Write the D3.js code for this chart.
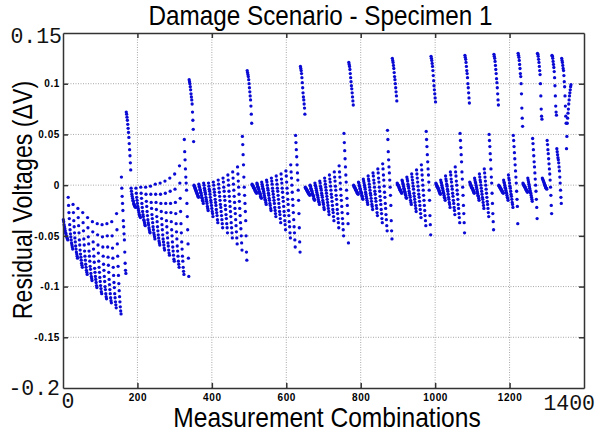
<!DOCTYPE html>
<html>
<head>
<meta charset="utf-8">
<script src="https://d3js.org/d3.v7.min.js"></script>
<style>
    body { margin: 0; background: #fff; }
    svg { display: block; background: #fff; }
    .grid line { stroke: #a8a8a8; stroke-width: 1; stroke-dasharray: 1,1.5; }
    .axis path, .axis line { stroke: #333; stroke-width: 1.5; }
    .axis text { font-family: "Liberation Sans", Arial, sans-serif; font-weight: bold; font-size: 10px; letter-spacing: 0.6px; fill: #000; }
    .big { font-family: "Liberation Mono", "DejaVu Sans Mono", monospace; font-size: 21.5px; fill: #111; }
    .label { font-family: "Liberation Sans", Arial, sans-serif; fill: #000; }
</style>
</head>
<body>
<div id="chart"></div>
<script>
// residual voltages in mV, one array of 13 measurements per current-injection pair
var seg01 = [
    [-34,-36,-39,-41,-43,-45,-47,-48,-50,-51,-52,-53,-54],
    [-12,-20,-27,-33,-39,-44,-48,-51,-54,-57,-59,-61,-63],
    [-19,-27,-35,-41,-47,-52,-56,-60,-63,-66,-68,-70,-72],
    [-23,-32,-40,-47,-54,-59,-64,-68,-71,-74,-77,-79,-81],
    [-27,-37,-45,-53,-59,-65,-70,-74,-78,-81,-84,-86,-88],
    [-32,-42,-51,-58,-65,-70,-75,-80,-83,-87,-90,-92,-94],
    [-36,-46,-56,-63,-70,-76,-82,-86,-90,-93,-96,-99,-101],
    [-38,-49,-59,-67,-75,-81,-86,-91,-95,-99,-102,-105,-107],
    [-39,-51,-61,-70,-78,-84,-90,-95,-100,-103,-107,-110,-112],
    [-38,-50,-61,-71,-79,-86,-93,-98,-103,-107,-111,-114,-116],
    [-36,-50,-62,-72,-81,-89,-96,-101,-107,-111,-115,-118,-121],
    [-28,-44,-58,-70,-80,-89,-97,-104,-110,-115,-120,-124,-127],
    [8,-3,-11,-18,-25,-35,-41,-48,-54,-66,-77,-84,-87],
    [72,70,67,64,60,56,52,47,41,35,29,22,15]
];
var seg02 = [
    [-3,-6,-9,-11,-13,-15,-16,-18,-19,-20,-21,-21,-22],
    [-3,-8,-12,-15,-18,-21,-23,-25,-27,-29,-30,-31,-32],
    [-2,-8,-13,-18,-22,-26,-29,-31,-34,-35,-37,-39,-40],
    [-2,-9,-16,-21,-26,-30,-34,-37,-39,-42,-44,-46,-47],
    [-1,-9,-17,-23,-29,-33,-37,-41,-44,-47,-49,-51,-53],
    [1,-9,-17,-24,-31,-36,-41,-45,-49,-52,-55,-57,-59],
    [2,-9,-18,-26,-33,-39,-44,-49,-53,-56,-59,-62,-64],
    [4,-8,-18,-27,-35,-41,-47,-52,-57,-60,-64,-67,-69],
    [7,-6,-18,-27,-36,-44,-50,-56,-61,-65,-69,-73,-75],
    [11,-4,-17,-28,-38,-46,-53,-60,-65,-70,-75,-78,-81],
    [19,2,-13,-26,-38,-47,-56,-63,-70,-75,-81,-85,-88],
    [45,33,25,16,8,2,-5,-18,-31,-44,-58,-72,-90],
    [104,102,100,97,94,90,87,84,80,72,64,55,43]
];
var seg03 = [
    [0,-1,-2,-3,-4,-5,-6,-7,-8,-9,-10,-11,-12],
    [1,-1,-2,-4,-5,-7,-8,-10,-12,-13,-15,-16,-18],
    [2,0,-3,-5,-7,-9,-12,-14,-16,-18,-21,-23,-25],
    [2,-1,-4,-6,-9,-12,-15,-17,-20,-23,-26,-28,-31],
    [3,0,-4,-7,-10,-14,-17,-20,-24,-27,-30,-34,-37],
    [5,1,-3,-7,-11,-15,-19,-22,-26,-30,-34,-38,-42],
    [7,3,-2,-6,-11,-15,-20,-24,-29,-33,-38,-42,-47],
    [10,5,0,-6,-11,-16,-21,-26,-31,-37,-42,-47,-52],
    [13,7,1,-5,-11,-17,-23,-28,-34,-40,-46,-52,-58],
    [18,11,4,-2,-9,-16,-23,-30,-37,-43,-50,-57,-64],
    [48,40,30,20,8,-2,-10,-18,-26,-35,-50,-66,-74],
    [113,111,109,107,104,100,96,92,88,84,78,70,61]
];
var seg04 = [
    [1,0,0,-1,-2,-3,-3,-4,-5,-6,-6,-7,-8],
    [2,1,-1,-2,-3,-4,-6,-7,-8,-9,-11,-12,-13],
    [3,1,-1,-3,-4,-6,-8,-10,-12,-14,-15,-17,-19],
    [5,3,0,-3,-5,-8,-10,-13,-15,-18,-20,-23,-25],
    [7,4,1,-3,-6,-9,-12,-15,-18,-22,-25,-28,-31],
    [9,5,1,-3,-6,-10,-14,-18,-22,-26,-29,-33,-37],
    [11,6,2,-3,-7,-12,-16,-21,-26,-30,-35,-39,-44],
    [14,9,3,-3,-8,-14,-19,-25,-30,-36,-41,-47,-52],
    [20,13,7,0,-7,-14,-20,-27,-34,-41,-47,-54,-61],
    [49,42,35,28,20,12,5,-5,-15,-28,-42,-56,-66],
    [117,115,113,110,106,101,96,91,87,84,80,76,70]
];
var seg05 = [
    [-2,-3,-3,-4,-5,-5,-6,-7,-7,-8,-9,-9,-10],
    [0,-1,-3,-4,-5,-6,-8,-9,-10,-11,-13,-14,-15],
    [2,0,-1,-3,-5,-7,-9,-10,-12,-14,-16,-17,-19],
    [4,2,-1,-3,-5,-8,-10,-12,-15,-17,-19,-22,-24],
    [7,4,1,-2,-5,-8,-11,-14,-17,-20,-23,-26,-29],
    [10,6,3,-1,-5,-9,-12,-16,-20,-24,-27,-31,-35],
    [13,8,4,-1,-5,-10,-14,-19,-24,-28,-33,-37,-42],
    [19,13,8,2,-4,-10,-15,-21,-27,-33,-38,-44,-50],
    [51,42,34,26,18,10,3,-5,-13,-20,-28,-38,-57],
    [121,119,117,114,110,106,102,98,95,91,87,83,79]
];
var seg06 = [
    [0,-1,-2,-2,-3,-4,-5,-5,-6,-7,-8,-8,-9],
    [3,2,0,-1,-3,-4,-6,-7,-8,-10,-11,-13,-14],
    [6,4,2,0,-2,-4,-7,-9,-11,-13,-15,-17,-19],
    [9,6,4,1,-2,-5,-8,-10,-13,-16,-19,-21,-24],
    [12,9,5,2,-2,-6,-9,-13,-16,-20,-23,-27,-30],
    [16,12,7,3,-2,-6,-11,-15,-19,-24,-28,-33,-37],
    [21,16,10,5,-1,-7,-12,-18,-23,-29,-34,-40,-45],
    [54,45,33,25,18,12,5,-2,-10,-20,-35,-45,-53],
    [125,123,121,118,115,111,107,104,100,96,92,88,83]
];
var seg07 = [
    [2,1,0,0,-1,-2,-3,-4,-5,-5,-6,-7,-8],
    [5,4,2,1,-1,-3,-4,-6,-7,-9,-10,-12,-13],
    [8,6,4,1,-1,-3,-6,-8,-10,-12,-15,-17,-19],
    [11,8,5,2,-1,-4,-8,-11,-14,-17,-20,-23,-26],
    [15,11,7,3,-1,-5,-9,-12,-16,-20,-24,-28,-32],
    [20,15,10,5,0,-5,-10,-15,-20,-25,-30,-35,-40],
    [53,45,38,30,23,16,10,3,-5,-15,-30,-39,-49],
    [127,125,123,120,117,113,108,103,98,94,90,86,82]
];
var seg08 = [
    [2,1,0,-1,-2,-2,-3,-4,-5,-6,-7,-8,-9],
    [5,3,2,0,-2,-3,-5,-7,-8,-10,-12,-13,-15],
    [9,6,4,1,-1,-4,-6,-9,-12,-14,-17,-19,-22],
    [13,10,6,3,-1,-4,-8,-11,-15,-18,-22,-25,-29],
    [18,13,9,4,0,-5,-9,-14,-19,-23,-28,-32,-37],
    [51,44,37,30,23,13,6,-2,-10,-20,-28,-37,-47],
    [128,126,124,121,117,113,110,106,100,96,91,86,81]
];
var seg09 = [
    [3,2,1,0,-1,-2,-3,-3,-4,-5,-6,-7,-8],
    [7,5,3,2,0,-2,-4,-6,-8,-10,-11,-13,-15],
    [11,8,5,3,0,-3,-6,-9,-12,-14,-17,-20,-23],
    [16,12,8,4,0,-4,-8,-12,-16,-19,-23,-27,-31],
    [50,44,38,31,25,16,8,2,-8,-18,-28,-36,-44],
    [129,127,125,122,118,114,110,105,101,96,90,84,79]
];
var seg10 = [
    [0,-1,-1,-2,-3,-3,-4,-5,-5,-6,-7,-7,-8],
    [5,3,2,0,-2,-3,-5,-7,-8,-10,-12,-13,-15],
    [10,7,5,2,-1,-3,-6,-9,-11,-14,-17,-19,-22],
    [49,44,38,32,26,20,14,8,2,-6,-14,-21,-38],
    [130,128,126,123,119,115,110,107,100,90,76,66,58]
];
var seg11 = [
    [2,1,0,0,-1,-2,-2,-3,-4,-5,-5,-6,-7],
    [7,5,3,1,-1,-3,-5,-7,-8,-10,-12,-14,-16],
    [46,41,35,29,23,18,12,6,0,-6,-14,-22,-33],
    [130,129,127,124,121,117,113,109,100,88,75,68,65]
];
var seg12 = [
    [7,6,5,4,3,2,1,0,-1,-2,-3,-3,-4],
    [44,40,35,31,26,21,16,11,5,-2,-10,-20,-28],
    [128,127,125,122,119,116,112,106,98,88,78,72,69]
];
var seg13 = [
    [36,33,30,27,25,22,18,14,8,2,-5,-12,-18],
    [125,123,121,118,115,113,108,102,97,88,78,68,61]
];
var seg14 = [
    [36,48,61,66,71,75,80,84,88,91,94,97,99]
];

var xGrid = [200, 400, 600, 800, 1000, 1200];
var yGrid = [-0.15, -0.1, -0.05, 0, 0.05, 0.1];
var xEnds = [0, 1400];
var yEnds = [-0.2, 0.15];

function drawChart() {
    var width = 597, height = 432;
    var margin = {top: 33, right: 13, bottom: 44, left: 63};

    var svg = d3.select("#chart").append("svg")
        .attr("width", width)
        .attr("height", height);

    var x = d3.scaleLinear().domain(xEnds).range([margin.left, width - margin.right]);
    var y = d3.scaleLinear().domain(yEnds).range([height - margin.bottom, margin.top]);

    // flatten: measurement combination number runs on through all segments
    var points = [];
    var n = 0;
    [seg01, seg02, seg03, seg04, seg05, seg06, seg07, seg08, seg09, seg10, seg11, seg12, seg13, seg14]
        .forEach(function(seg) {
            seg.forEach(function(stripe) {
                stripe.forEach(function(v) {
                    n++;
                    points.push({n: n, v: v / 1000});
                });
            });
        });

    var grid = svg.append("g").attr("class", "grid");
    grid.selectAll(".gx").data(xGrid).enter().append("line")
        .attr("x1", function(d) { return x(d); })
        .attr("x2", function(d) { return x(d); })
        .attr("y1", y(yEnds[0]))
        .attr("y2", y(yEnds[1]));
    grid.selectAll(".gy").data(yGrid).enter().append("line")
        .attr("x1", x(xEnds[0]))
        .attr("x2", x(xEnds[1]))
        .attr("y1", function(d) { return y(d); })
        .attr("y2", function(d) { return y(d); });

    svg.append("g").selectAll("circle")
        .data(points)
        .enter().append("circle")
        .attr("cx", function(d) { return x(d.n); })
        .attr("cy", function(d) { return y(d.v); })
        .attr("r", 1.65)
        .attr("fill", "#0a0ad4");

    var fmtY = function(d) { return String(+d.toFixed(2)); };

    svg.append("g")
        .attr("class", "axis")
        .attr("transform", "translate(0," + y(yEnds[0]) + ")")
        .call(d3.axisBottom(x).tickValues(xGrid).tickSizeInner(-5).tickSizeOuter(0).tickPadding(6).tickFormat(d3.format("d")));
    svg.append("g")
        .attr("class", "axis")
        .attr("transform", "translate(0," + y(yEnds[1]) + ")")
        .call(d3.axisTop(x).tickValues(xGrid).tickSizeInner(-5).tickSizeOuter(0).tickFormat(""));
    svg.append("g")
        .attr("class", "axis")
        .attr("transform", "translate(" + x(xEnds[0]) + ",0)")
        .call(d3.axisLeft(y).tickValues(yGrid).tickSizeInner(-5).tickSizeOuter(0).tickPadding(3).tickFormat(fmtY));
    svg.append("g")
        .attr("class", "axis")
        .attr("transform", "translate(" + x(xEnds[1]) + ",0)")
        .call(d3.axisRight(y).tickValues(yGrid).tickSizeInner(-5).tickSizeOuter(0).tickFormat(""));

    // large end labels
    svg.append("text").attr("class", "big")
        .attr("x", x(xEnds[0]) - 1).attr("y", y(yEnds[1]) + 10)
        .attr("text-anchor", "end").text("0.15");
    svg.append("text").attr("class", "big")
        .attr("x", x(xEnds[0]) - 3).attr("y", y(yEnds[0]) + 7)
        .attr("text-anchor", "end").text("-0.2");
    svg.append("text").attr("class", "big")
        .attr("x", x(xEnds[0]) + 5).attr("y", y(yEnds[0]) + 20)
        .attr("text-anchor", "middle").text("0");
    svg.append("text").attr("class", "big")
        .attr("x", x(xEnds[1]) + 11).attr("y", y(yEnds[0]) + 22)
        .attr("text-anchor", "end").text("1400");

    svg.append("text").attr("class", "label")
        .attr("transform", "translate(320.5,25) scale(1,1.12)")
        .attr("text-anchor", "middle")
        .style("font-size", "24.3px")
        .text("Damage Scenario - Specimen 1");

    svg.append("text").attr("class", "label")
        .attr("transform", "translate(327,427) scale(1,1.12)")
        .attr("text-anchor", "middle")
        .style("font-size", "24.6px")
        .text("Measurement Combinations");

    svg.append("text").attr("class", "label")
        .attr("transform", "translate(32,200) rotate(-90) scale(1,1.2)")
        .attr("text-anchor", "middle")
        .style("font-size", "23.2px")
        .text("Residual Voltages (\u0394V)");
}

drawChart();
</script>
</body>
</html>
